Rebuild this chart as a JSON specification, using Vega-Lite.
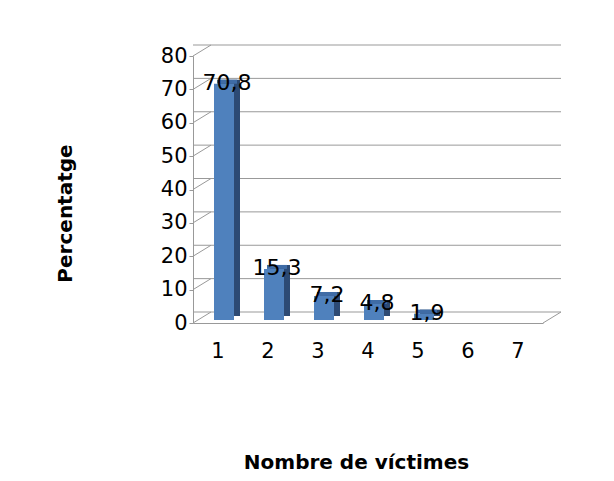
{
  "$schema": "https://vega.github.io/schema/vega-lite/v6.json",
  "width": 350,
  "height": 267,
  "autosize": "none",
  "padding": {"left": 193, "top": 56, "right": 71, "bottom": 158},
  "background": "white",
  "config": {
    "view": {"stroke": null},
    "font": "DejaVu Sans",
    "axis": {"labelFont": "DejaVu Sans", "titleFont": "DejaVu Sans", "labelColor": "#000000", "titleColor": "#000000"},
    "axisY": {"labelOverlap": false, "labelBound": false, "grid": false, "labelFontSize": 21, "tickSize": 4, "labelPadding": 2,
      "domainColor": "#999999", "tickColor": "#999999"}
  },
  "datasets": {
    "bars": [
      {"victims": "1", "percent": 70.8, "label": "70,8"},
      {"victims": "2", "percent": 15.3, "label": "15,3"},
      {"victims": "3", "percent": 7.2, "label": "7,2"},
      {"victims": "4", "percent": 4.8, "label": "4,8"},
      {"victims": "5", "percent": 1.9, "label": "1,9"},
      {"victims": "6", "percent": null, "label": ""},
      {"victims": "7", "percent": null, "label": ""}
    ],
    "grid": [
      {"v": 0}, {"v": 10}, {"v": 20}, {"v": 30}, {"v": 40},
      {"v": 50}, {"v": 60}, {"v": 70}, {"v": 80}
    ],
    "corner": [{"v": 0, "victims": "7"}]
  },
  "encoding": {
    "x": {
      "field": "victims", "type": "nominal",
      "scale": {"domain": ["1","2","3","4","5","6","7"], "paddingInner": 0, "paddingOuter": 0},
      "axis": {
        "title": "Nombre de víctimes", "labelAngle": 0, "labelFontSize": 21,
        "ticks": false, "tickSize": 0, "labelPadding": 34, "labelBaseline": "alphabetic",
        "domainColor": "#999999", "domainWidth": 1,
        "titleFontSize": 20, "titleFontWeight": "bold",
        "titleX": 163, "titleY": 145, "titleBaseline": "alphabetic", "titleAlign": "center"
      }
    }
  },
  "layer": [
    {
      "data": {"name": "grid"},
      "mark": {"type": "rule", "color": "#999999", "strokeWidth": 1, "xOffset": 18, "yOffset": -11},
      "encoding": {
        "x": null,
        "y": {"field": "v", "type": "quantitative",
          "scale": {"domain": [0, 80], "nice": false},
          "axis": {
            "title": "Percentatge", "values": [0,10,20,30,40,50,60,70,80], "tickCount": 9,
            "titleFontSize": 20, "titleFontWeight": "bold", "titleAngle": -90,
            "titleX": -128, "titleY": 157, "titleBaseline": "middle", "titleAlign": "center"
          }
        }
      }
    },
    {
      "data": {"name": "grid"},
      "mark": {"type": "rule", "color": "#999999", "strokeWidth": 1, "xOffset": -25, "x2Offset": -7, "yOffset": 0, "y2Offset": -11},
      "encoding": {
        "x": {"datum": "1", "type": "nominal"},
        "x2": {"datum": "1"},
        "y": {"field": "v", "type": "quantitative"},
        "y2": {"field": "v"}
      }
    },
    {
      "data": {"name": "corner"},
      "mark": {"type": "rule", "color": "#999999", "strokeWidth": 1, "xOffset": 25, "x2Offset": 43, "yOffset": 0, "y2Offset": -11},
      "encoding": {
        "x": {"field": "victims", "type": "nominal"},
        "x2": {"field": "victims"},
        "y": {"field": "v", "type": "quantitative"},
        "y2": {"field": "v"}
      }
    },
    {
      "data": {"name": "bars"},
      "mark": {"type": "bar", "color": "#2C4A74", "width": {"band": 0.4}, "xOffset": 12, "x2Offset": 12, "yOffset": -7, "y2Offset": -7},
      "encoding": {
        "y": {"field": "percent", "type": "quantitative"}
      }
    },
    {
      "data": {"name": "bars"},
      "mark": {"type": "bar", "color": "#3F6CA6", "width": {"band": 0.4}, "xOffset": 9, "x2Offset": 9, "yOffset": -7, "y2Offset": -3},
      "encoding": {
        "y": {"field": "percent", "type": "quantitative"},
        "y2": {"field": "percent"}
      }
    },
    {
      "data": {"name": "bars"},
      "mark": {"type": "bar", "color": "#4F81BD", "width": {"band": 0.4}, "xOffset": 6, "x2Offset": 6, "yOffset": -3, "y2Offset": -3},
      "encoding": {
        "y": {"field": "percent", "type": "quantitative"}
      }
    },
    {
      "data": {"name": "bars"},
      "mark": {"type": "text", "fontSize": 22, "font": "DejaVu Sans", "color": "#000000", "dx": 9, "dy": 3, "baseline": "alphabetic", "align": "center"},
      "encoding": {
        "y": {"field": "percent", "type": "quantitative"},
        "text": {"field": "label"}
      }
    }
  ]
}
